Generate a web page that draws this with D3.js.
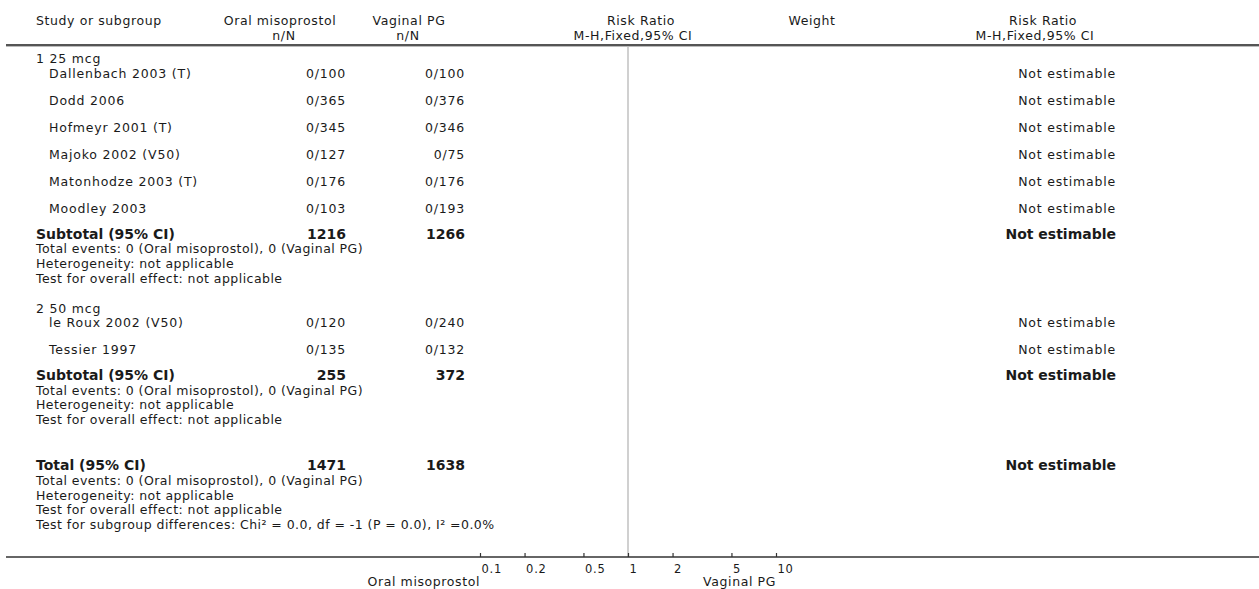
<html>
<head>
<title>Forest plot</title>
<script src="https://d3js.org/d3.v7.min.js"></script>
<style>
  body { margin: 0; background: #fff; }
  text { font-family: "DejaVu Sans", Verdana, sans-serif; fill: #1a1a1a; }
  .hd { font-size: 12.5px; letter-spacing: 0.6px; }
  .st { font-size: 12.5px; letter-spacing: 0.8px; }
  .info { font-size: 12.5px; letter-spacing: 0.45px; }
  .bold { font-size: 14px; font-weight: bold; }
  .tick text { font-size: 11.5px; letter-spacing: 0.8px; }
</style>
</head>
<body>
<div id="plot"></div>
<script>
// data
var groups = ["1 25 mcg", "2 50 mcg"];
var studies = ["Dallenbach 2003 (T)", "Dodd 2006", "Hofmeyr 2001 (T)", "Majoko 2002 (V50)",
               "Matonhodze 2003 (T)", "Moodley 2003", "le Roux 2002 (V50)", "Tessier 1997"];
var studyGroup = [0, 0, 0, 0, 0, 0, 1, 1];
var oralEvents = [0, 0, 0, 0, 0, 0, 0, 0];
var oralTotals = [100, 365, 345, 127, 176, 103, 120, 135];
var vagEvents  = [0, 0, 0, 0, 0, 0, 0, 0];
var vagTotals  = [100, 376, 346, 75, 176, 193, 240, 132];
var rrTicks = [0.1, 0.2, 0.5, 1, 2, 5, 10];
var expLabel = "Oral misoprostol", ctlLabel = "Vaginal PG";

var w = 1259, h = 589;
var svg = d3.select("#plot").append("svg").attr("width", w).attr("height", h);

// columns
var xName = 36, xStudy = 49, xOral = 346, xVag = 465, xRight = 1116;
var axisY = 557, headLineY = 45;

// log scale for the risk ratio column
var x = d3.scaleLog().domain([0.01, 100]).range([332, 924]);

// header
function hd(txt, xx, yy, anchor) {
    svg.append("text").attr("class", "hd").attr("x", xx).attr("y", yy)
       .attr("text-anchor", anchor || "middle").text(txt);
}
hd("Study or subgroup", xName, 25, "start");
hd(expLabel, 280, 25); hd("n/N", 284, 40);
hd(ctlLabel, 409, 25); hd("n/N", 408, 40);
hd("Risk Ratio", 641, 25); hd("M-H,Fixed,95% CI", 633, 40);
hd("Weight", 812, 25);
hd("Risk Ratio", 1043, 25); hd("M-H,Fixed,95% CI", 1035, 40);

svg.append("line").attr("x1", 6).attr("x2", w).attr("y1", headLineY).attr("y2", headLineY)
   .attr("stroke", "#555").attr("stroke-width", 2);
svg.append("line").attr("x1", 6).attr("x2", w).attr("y1", headLineY + 1.5).attr("y2", headLineY + 1.5)
   .attr("stroke", "#bbb").attr("stroke-width", 1);

// vertical line of no effect
svg.append("line").attr("x1", x(1)).attr("x2", x(1)).attr("y1", headLineY + 2).attr("y2", axisY)
   .attr("stroke", "#d0d0d0").attr("stroke-width", 2);

function infoLines(y0, extra) {
    var lines = ["Total events: 0 (" + expLabel + "), 0 (" + ctlLabel + ")",
                 "Heterogeneity: not applicable",
                 "Test for overall effect: not applicable"].concat(extra || []);
    lines.forEach(function(t, i) {
        svg.append("text").attr("class", "info").attr("x", xName).attr("y", y0 + i * 14.8).text(t);
    });
    return y0 + (lines.length - 1) * 14.8;
}

function summaryRow(label, y, nOral, nVag) {
    svg.append("text").attr("class", "bold").attr("x", xName).attr("y", y).text(label);
    svg.append("text").attr("class", "bold").attr("x", xOral).attr("y", y).attr("text-anchor", "end").text(nOral);
    svg.append("text").attr("class", "bold").attr("x", xVag).attr("y", y).attr("text-anchor", "end").text(nVag);
    svg.append("text").attr("class", "bold").attr("x", xRight).attr("y", y).attr("text-anchor", "end").text("Not estimable");
}

var y = 63;
groups.forEach(function(g, gi) {
    svg.append("text").attr("class", "st").attr("x", xName).attr("y", y).text(g);
    y += 14.5;
    var idx = d3.range(studies.length).filter(function(i) { return studyGroup[i] === gi; });
    idx.forEach(function(i, k) {
        if (k > 0) y += 27;
        svg.append("text").attr("class", "st").attr("x", xStudy).attr("y", y).text(studies[i]);
        svg.append("text").attr("class", "st").attr("x", xOral).attr("y", y).attr("text-anchor", "end")
           .text(oralEvents[i] + "/" + oralTotals[i]);
        svg.append("text").attr("class", "st").attr("x", xVag).attr("y", y).attr("text-anchor", "end")
           .text(vagEvents[i] + "/" + vagTotals[i]);
        svg.append("text").attr("class", "st").attr("x", xRight).attr("y", y).attr("text-anchor", "end")
           .text("Not estimable");
    });
    y += 26;
    summaryRow("Subtotal (95% CI)", y,
               d3.sum(idx, function(i) { return oralTotals[i]; }),
               d3.sum(idx, function(i) { return vagTotals[i]; }));
    y = infoLines(y + 14.5);
    y += (gi < groups.length - 1) ? 30 : 46;
});

// overall total
summaryRow("Total (95% CI)", y, d3.sum(oralTotals), d3.sum(vagTotals));
infoLines(y + 14.5, ["Test for subgroup differences: Chi\u00b2 = 0.0, df = -1 (P = 0.0), I\u00b2 =0.0%"]);

// bottom axis
svg.append("line").attr("x1", 6).attr("x2", w).attr("y1", axisY).attr("y2", axisY)
   .attr("stroke", "#333").attr("stroke-width", 1.5);
var axis = d3.axisBottom(x).tickValues(rrTicks).tickSize(-4).tickSizeOuter(0).tickPadding(8)
             .tickFormat(function(d) { return String(d); });
var ag = svg.append("g").attr("class", "tick-axis").attr("transform", "translate(0," + axisY + ")").call(axis);
ag.select(".domain").remove();
ag.selectAll(".tick line").attr("stroke", "#333").attr("stroke-width", 1.2);
ag.selectAll(".tick text").attr("text-anchor", "start").attr("dx", 1)
  .attr("font-family", null).attr("font-size", null).attr("fill", "#1a1a1a");

svg.append("text").attr("class", "hd").attr("x", x(0.1)).attr("y", 586).attr("text-anchor", "end").text(expLabel);
svg.append("text").attr("class", "hd").attr("x", x(10)).attr("y", 586).attr("text-anchor", "end").text(ctlLabel);
</script>
</body>
</html>
